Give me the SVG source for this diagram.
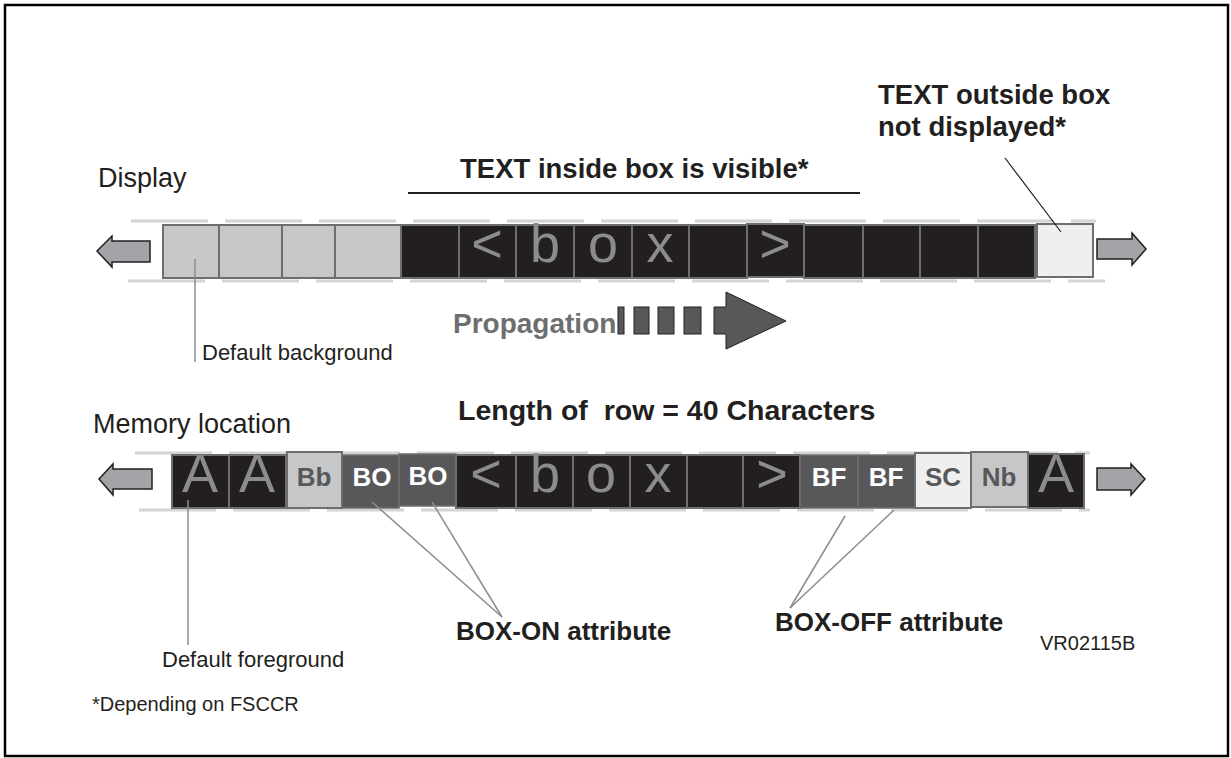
<svg xmlns="http://www.w3.org/2000/svg" width="1231" height="758" viewBox="0 0 1231 758">
<style>
text{font-family:"Liberation Sans",Arial,sans-serif;fill:#231f20}
.lbl{font-size:27px}
.b{font-weight:bold;font-size:27.5px}
.sm{font-size:22px}
.big{font-size:54px;fill:#8a8c8e;text-anchor:middle}
.att{font-size:26px;font-weight:bold;text-anchor:middle}
.w{fill:#ffffff}
.g{fill:#58585a}
.dash{stroke:#d4d4d4;stroke-width:3;stroke-dasharray:77 17;fill:none}
.lc{fill:#c6c7c8;stroke:#6d6e70;stroke-width:2}
.dc{fill:#231f20;stroke:#6d6e70;stroke-width:2}
.mc{fill:#58585a;stroke:#6d6e70;stroke-width:1.5}
.wc{fill:#efefef;stroke:#6d6e70;stroke-width:2}
.arr{fill:#a3a4a7;stroke:#231f20;stroke-width:1.5}
.lead{stroke:#8a8c8e;stroke-width:1.5;fill:none}
</style>
<rect x="5" y="5" width="1223" height="751" fill="#ffffff" stroke="#000000" stroke-width="2.5"/>

<g id="labels">
<text class="lbl" x="98" y="187">Display</text>
<text class="b" x="460" y="178">TEXT inside box is visible*</text>
<text class="b" x="878" y="104">TEXT outside box</text>
<text class="b" x="878" y="136">not displayed*</text>
<text class="b" x="453" y="333" style="fill:#6d6e70;font-size:28px">Propagation</text>
<text class="sm" x="202" y="360">Default background</text>
<text class="b" x="458" y="420" xml:space="preserve" style="font-size:28.5px">Length of  row = 40 Characters</text>
<text class="lbl" x="93" y="433">Memory location</text>
<text class="sm" x="162" y="667">Default foreground</text>
<text class="b" x="456" y="640" style="font-size:26px">BOX-ON attribute</text>
<text class="b" x="775" y="631" style="font-size:26px">BOX-OFF attribute</text>
<text x="1040" y="650" style="font-size:20px">VR02115B</text>
<text x="92" y="711" style="font-size:20px">*Depending on FSCCR</text>
</g>

<g id="display-row">
<line class="dash" x1="131" y1="221" x2="1096" y2="221"/>
<line class="dash" x1="128" y1="281" x2="1105" y2="281"/>
<polygon class="arr" points="97,251 112,236 112,241 150,241 150,262 112,262 112,267"/>
<polygon class="arr" points="1146,249 1132,233 1132,239 1097,239 1097,259 1132,259 1132,265"/>
<rect class="lc" x="163" y="225" width="56" height="53"/>
<rect class="lc" x="219" y="225" width="63" height="53"/>
<rect class="lc" x="282" y="225" width="53" height="53"/>
<rect class="lc" x="335" y="225" width="66" height="53"/>
<rect class="dc" x="401" y="225" width="58" height="53"/>
<rect class="dc" x="459" y="225" width="57" height="53"/>
<rect class="dc" x="516" y="225" width="58" height="53"/>
<rect class="dc" x="574" y="225" width="58" height="53"/>
<rect class="dc" x="632" y="225" width="57" height="53"/>
<rect class="dc" x="689" y="225" width="58" height="53"/>
<rect class="dc" x="747" y="224" width="57" height="53"/>
<rect class="dc" x="804" y="225" width="59" height="53"/>
<rect class="dc" x="863" y="225" width="57" height="53"/>
<rect class="dc" x="920" y="225" width="58" height="53"/>
<rect class="dc" x="978" y="225" width="57" height="53"/>
<rect class="wc" x="1037" y="224" width="56" height="53"/>
<text class="big" x="487" y="262">&lt;</text>
<text class="big" x="545" y="262">b</text>
<text class="big" x="603" y="262">o</text>
<text class="big" x="660" y="262">x</text>
<text class="big" x="775" y="262">&gt;</text>
</g>

<g id="propagation">
<rect x="618" y="307" width="6" height="27" fill="#58585a" stroke="#231f20" stroke-width="1"/>
<rect x="634" y="307" width="15" height="27" fill="#58585a" stroke="#231f20" stroke-width="1"/>
<rect x="658" y="307" width="16" height="27" fill="#58585a" stroke="#231f20" stroke-width="1"/>
<rect x="684" y="307" width="17" height="27" fill="#58585a" stroke="#231f20" stroke-width="1"/>
<polygon points="714,307 726,307 726,292 786,321 726,349 726,334 714,334" fill="#58585a" stroke="#231f20" stroke-width="1"/>
</g>

<g id="memory-row">
<line class="dash" x1="135" y1="453" x2="1090" y2="453"/>
<line class="dash" x1="139" y1="510" x2="1090" y2="510"/>
<polygon class="arr" points="99,479 113,464 113,469 152,469 152,489 113,489 113,495"/>
<polygon class="arr" points="1145,479 1131,464 1131,468 1097,468 1097,490 1131,490 1131,495"/>
<rect class="dc" x="172" y="455" width="57" height="53"/>
<rect class="dc" x="229" y="455" width="57" height="53"/>
<rect class="lc" x="287" y="452" width="55" height="56"/>
<rect class="mc" x="342" y="455" width="57" height="53"/>
<rect class="mc" x="399" y="454" width="57" height="52"/>
<rect class="dc" x="456" y="455" width="60" height="53"/>
<rect class="dc" x="516" y="455" width="57" height="53"/>
<rect class="dc" x="573" y="455" width="57" height="53"/>
<rect class="dc" x="630" y="455" width="57" height="53"/>
<rect class="dc" x="687" y="455" width="56" height="53"/>
<rect class="dc" x="743" y="455" width="57" height="53"/>
<rect class="mc" x="800" y="455" width="58" height="53"/>
<rect class="mc" x="858" y="455" width="57" height="53"/>
<rect class="wc" x="915" y="453" width="56" height="55"/>
<rect class="lc" x="971" y="452" width="57" height="55"/>
<rect class="dc" x="1028" y="454" width="56" height="54"/>
<text class="big" x="200" y="492">A</text>
<text class="big" x="257" y="492">A</text>
<text class="att g" x="314" y="486">Bb</text>
<text class="att w" x="372" y="486">BO</text>
<text class="att w" x="428" y="485">BO</text>
<text class="big" x="486" y="492">&lt;</text>
<text class="big" x="545" y="492">b</text>
<text class="big" x="601" y="492">o</text>
<text class="big" x="658" y="492">x</text>
<text class="big" x="772" y="492">&gt;</text>
<text class="att w" x="829" y="486">BF</text>
<text class="att w" x="886" y="486">BF</text>
<text class="att g" x="943" y="486">SC</text>
<text class="att g" x="999" y="486">Nb</text>
<text class="big" x="1056" y="492">A</text>
</g>

<g id="connectors">
<line x1="408" y1="193" x2="860" y2="193" stroke="#231f20" stroke-width="2"/>
<line x1="1005" y1="158" x2="1061" y2="232" stroke="#231f20" stroke-width="1.2"/>
<line class="lead" x1="195" y1="259" x2="195" y2="362"/>
<line class="lead" x1="188" y1="500" x2="188" y2="645"/>
<line class="lead" x1="372" y1="502" x2="502" y2="617"/>
<line class="lead" x1="432" y1="502" x2="502" y2="617"/>
<line class="lead" x1="845" y1="516" x2="790" y2="608"/>
<line class="lead" x1="894" y1="510" x2="790" y2="608"/>
</g>
</svg>
